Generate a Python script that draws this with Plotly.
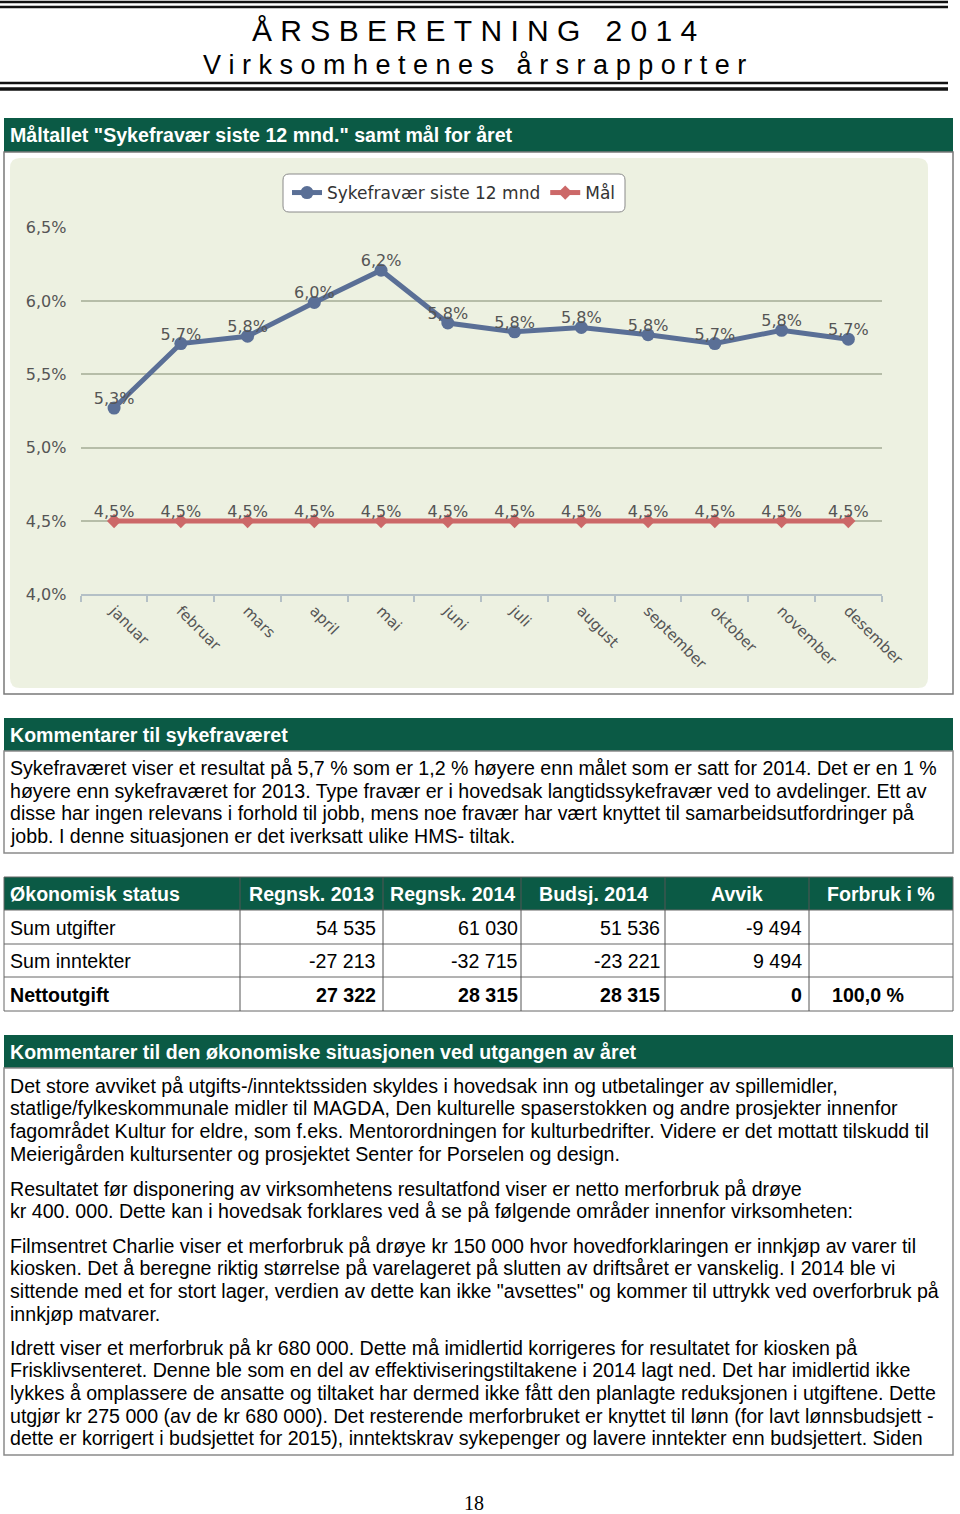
import plotly.graph_objects as go

W, H = 960, 1514


def px(x):
    return x / W


def py(y):
    return 1 - y / H


# ---------------- data ----------------
months = ["januar", "februar", "mars", "april", "mai", "juni", "juli",
          "august", "september", "oktober", "november", "desember"]
sykefravaer = [5.27, 5.71, 5.76, 5.99, 6.21, 5.85, 5.79, 5.82, 5.77, 5.71, 5.80, 5.74]
maal = [4.5, 4.5, 4.5, 4.5, 4.5, 4.5, 4.5, 4.5, 4.5, 4.5, 4.5, 4.5]
y_ticks = [4.0, 4.5, 5.0, 5.5, 6.0, 6.5]

table_header = ["Økonomisk status", "Regnsk. 2013", "Regnsk. 2014", "Budsj. 2014", "Avvik", "Forbruk i %"]
row_labels = ["Sum utgifter", "Sum inntekter", "Nettoutgift"]
regnsk_2013 = ["54 535", "-27 213", "27 322"]
regnsk_2014 = ["61 030", "-32 715", "28 315"]
budsj_2014 = ["51 536", "-23 221", "28 315"]
avvik = ["-9 494", "9 494", "0"]
forbruk = ["", "", "100,0 %"]

comment_sykefravaer = [
    "Sykefraværet viser et resultat på 5,7 % som er 1,2 % høyere enn målet som er satt for 2014. Det er en 1 %",
    "høyere enn sykefraværet for 2013. Type fravær er i hovedsak langtidssykefravær ved to avdelinger. Ett av",
    "disse har ingen relevans i forhold til jobb, mens noe fravær har vært knyttet til samarbeidsutfordringer på",
    "jobb. I denne situasjonen er det iverksatt ulike HMS- tiltak.",
]
comment_okonomi = [
    ["Det store avviket på utgifts-/inntektssiden skyldes i hovedsak inn og utbetalinger av spillemidler,",
     "statlige/fylkeskommunale midler til MAGDA, Den kulturelle spaserstokken og andre prosjekter innenfor",
     "fagområdet Kultur for eldre, som f.eks. Mentorordningen for kulturbedrifter. Videre er det mottatt tilskudd til",
     "Meierigården kultursenter og prosjektet Senter for Porselen og design."],
    ["Resultatet før disponering av virksomhetens resultatfond viser er netto merforbruk på drøye",
     "kr 400. 000. Dette kan i hovedsak forklares ved å se på følgende områder innenfor virksomheten:"],
    ["Filmsentret Charlie viser et merforbruk på drøye kr 150 000 hvor hovedforklaringen er innkjøp av varer til",
     "kiosken. Det å beregne riktig størrelse på varelageret på slutten av driftsåret er vanskelig. I 2014 ble vi",
     "sittende med et for stort lager, verdien av dette kan ikke \"avsettes\" og kommer til uttrykk ved overforbruk på",
     "innkjøp matvarer."],
    ["Idrett viser et merforbruk på kr 680 000. Dette må imidlertid korrigeres for resultatet for kiosken på",
     "Frisklivsenteret. Denne ble som en del av effektiviseringstiltakene i 2014 lagt ned. Det har imidlertid ikke",
     "lykkes å omplassere de ansatte og tiltaket har dermed ikke fått den planlagte reduksjonen i utgiftene. Dette",
     "utgjør kr 275 000 (av de kr 680 000). Det resterende merforbruket er knyttet til lønn (for lavt lønnsbudsjett -",
     "dette er korrigert i budsjettet for 2015), inntektskrav sykepenger og lavere inntekter enn budsjettert. Siden"],
]

# ---------------- styles ----------------
GREEN = "#0b5a45"
BLUE = "#5a6f96"
RED = "#cc6868"
LABEL = "#555555"
BODY_FONT = "Liberation Sans"
CHART_FONT = "DejaVu Sans"
FS = 19.6
TX = 8  # left x of body text annotations


def fmt_pct(v):
    return f"{v:.1f}".replace(".", ",") + "%"


fig = go.Figure()

fig.add_trace(go.Scatter(
    x=months, y=sykefravaer, mode="lines+markers", name="Sykefravær siste 12 mnd",
    line=dict(color=BLUE, width=5), marker=dict(size=13, color=BLUE),
    hoverinfo="skip"))
fig.add_trace(go.Scatter(
    x=months, y=maal, mode="lines+markers", name="Mål",
    line=dict(color=RED, width=5), marker=dict(size=11, color=RED, symbol="diamond"),
    hoverinfo="skip"))
fig.add_trace(go.Scatter(
    x=months, y=sykefravaer, mode="text", text=[fmt_pct(v) for v in sykefravaer],
    textposition="top center", textfont=dict(family=CHART_FONT, size=16, color=LABEL),
    showlegend=False, hoverinfo="skip"))
fig.add_trace(go.Scatter(
    x=months, y=maal, mode="text", text=[fmt_pct(v) for v in maal],
    textposition="top center", textfont=dict(family=CHART_FONT, size=16, color=LABEL),
    showlegend=False, hoverinfo="skip"))

shapes = []
annotations = []


def rect(x0, y0, x1, y1, fill=None, line_color=None, lw=1, layer="below"):
    shapes.append(dict(type="rect", xref="paper", yref="paper",
                       x0=px(x0), x1=px(x1), y0=py(y1), y1=py(y0),
                       fillcolor=fill if fill else "rgba(0,0,0,0)",
                       line=dict(color=line_color if line_color else "rgba(0,0,0,0)", width=lw if line_color else 0),
                       layer=layer))


def hline(x0, x1, y, color, lw, layer="below"):
    shapes.append(dict(type="line", xref="paper", yref="paper",
                       x0=px(x0), x1=px(x1), y0=py(y), y1=py(y),
                       line=dict(color=color, width=lw), layer=layer))


def vline(x, y0, y1, color, lw, layer="below"):
    shapes.append(dict(type="line", xref="paper", yref="paper",
                       x0=px(x), x1=px(x), y0=py(y0), y1=py(y1),
                       line=dict(color=color, width=lw), layer=layer))


def rrect(x0, y0, x1, y1, r, fill, line_color, lw, layer="below"):
    p = (f"M {px(x0+r)},{py(y0)} L {px(x1-r)},{py(y0)} Q {px(x1)},{py(y0)} {px(x1)},{py(y0+r)} "
         f"L {px(x1)},{py(y1-r)} Q {px(x1)},{py(y1)} {px(x1-r)},{py(y1)} "
         f"L {px(x0+r)},{py(y1)} Q {px(x0)},{py(y1)} {px(x0)},{py(y1-r)} "
         f"L {px(x0)},{py(y0+r)} Q {px(x0)},{py(y0)} {px(x0+r)},{py(y0)} Z")
    shapes.append(dict(type="path", xref="paper", yref="paper", path=p,
                       fillcolor=fill, line=dict(color=line_color, width=lw), layer=layer))


def text(x, y, s, size=FS, color="#000000", bold=False, anchor="left", family=BODY_FONT, yanchor="middle"):
    annotations.append(dict(xref="paper", yref="paper", x=px(x), y=py(y), text=("<b>%s</b>" % s) if bold else s,
                            showarrow=False, xanchor=anchor, yanchor=yanchor,
                            font=dict(family=family, size=size, color=color)))


NB = "\u00a0"

# ---------------- page header ----------------
hline(0, 948, 2, "#111111", 2.5)
hline(0, 948, 7, "#111111", 2.5)
hline(0, 948, 83, "#111111", 2.5)
hline(0, 948, 89, "#111111", 3.5)
title1 = NB.join(list("ÅRSBERETNING")) + NB * 3 + NB.join(list("2014"))
title2 = NB.join(list("Virksomhetenes")) + NB * 3 + NB.join(list("årsrapporter"))
text(474, 31, title1, size=30, anchor="center")
text(474, 65, title2, size=27, anchor="center")

# ---------------- chart section ----------------
rect(4, 118, 953, 152, fill=GREEN)
text(TX, 135, "Måltallet \"Sykefravær siste 12 mnd.\" samt mål for året", color="white", bold=True)
rect(4, 152, 953, 694, fill="white", line_color="#7a7a7a", lw=1.5)
rrect(10, 158, 928, 688, 10, "#edf1e1", "#edf1e1", 0)
rrect(283, 174, 625, 212, 6, "white", "#8a8a8a", 1)

# ---------------- comment 1 ----------------
rect(4, 718, 953, 751, fill=GREEN)
text(TX, 735, "Kommentarer til sykefraværet", color="white", bold=True)
rect(4, 751, 953, 853, line_color="#8a8a8a", lw=1.5)
for i, ln in enumerate(comment_sykefravaer):
    text(TX, 768 + i * 22.7, ln)

# ---------------- table ----------------
col_x = [4, 240, 383, 521, 665, 809, 953]
row_y = [877, 910, 944, 977, 1011]
rect(4, 877, 953, 910, fill=GREEN)
rect(4, 877, 953, 1011, line_color="#666666", lw=1)
for yy in row_y[1:-1]:
    hline(4, 953, yy, "#666666", 1)
for xx in col_x[1:-1]:
    vline(xx, 877, 1011, "#555555", 1)
text(TX, 894, table_header[0], color="white", bold=True)
for j in range(1, 6):
    text((col_x[j] + col_x[j + 1]) / 2, 894, table_header[j], color="white", bold=True, anchor="center")
right_edges = [378, 520, 662, 804]
cols = [regnsk_2013, regnsk_2014, budsj_2014, avvik]
for i, lab in enumerate(row_labels):
    yc = (row_y[i + 1] + row_y[i + 2]) / 2 + 0.5
    bold = (i == 2)
    text(TX, yc, lab, bold=bold)
    for c, vals in enumerate(cols):
        text(right_edges[c], yc, vals[i], bold=bold, anchor="right")
    if forbruk[i]:
        text(868, yc, forbruk[i], bold=bold, anchor="center")

# ---------------- comment 2 ----------------
rect(4, 1035, 953, 1068, fill=GREEN)
text(TX, 1052, "Kommentarer til den økonomiske situasjonen ved utgangen av året", color="white", bold=True)
rect(4, 1068, 953, 1455, line_color="#8a8a8a", lw=1.5)
para_start = [1085.5, 1188.5, 1245.5, 1347.5]
for p, lines in enumerate(comment_okonomi):
    for i, ln in enumerate(lines):
        text(TX, para_start[p] + i * 22.7, ln)

# page number
text(474, 1502.5, "18", size=20, family="Liberation Serif", anchor="center")

fig.update_layout(
    width=W, height=H, autosize=False,
    margin=dict(l=0, r=0, t=0, b=0, pad=0, autoexpand=False),
    paper_bgcolor="white",
    plot_bgcolor="#e2ecc8",
    shapes=shapes,
    annotations=annotations,
    showlegend=True,
    legend=dict(orientation="h", x=px(454), xanchor="center", y=py(193), yanchor="middle",
                bgcolor="rgba(0,0,0,0)", borderwidth=0,
                font=dict(family=CHART_FONT, size=17, color="#333333")),
    xaxis=dict(domain=[px(80.7), px(881.7)], type="category", range=[-0.5, 11.5], automargin=False,
               showgrid=False, showline=True, linecolor="#b4c0c6", linewidth=2,
               ticks="outside", ticklen=6, tickcolor="#b4c0c6", tickwidth=2, tickson="boundaries",
               tickangle=45, tickfont=dict(family=CHART_FONT, size=15, color=LABEL),
               zeroline=False, fixedrange=True),
    yaxis=dict(domain=[py(594.3), py(227.7)], range=[4.0, 6.5], automargin=False,
               tickvals=y_ticks, ticktext=[fmt_pct(v) for v in y_ticks],
               showgrid=True, gridcolor="#b6bda8", gridwidth=2,
               showline=False, zeroline=False, ticks="outside", ticklen=10, tickcolor="rgba(0,0,0,0)",
               tickfont=dict(family=CHART_FONT, size=16, color=LABEL), fixedrange=True),
)

fig.write_html(
    "out.html",
    config={"displayModeBar": False},
    post_script="document.body.style.margin='0';document.body.style.overflow='hidden';",
)
